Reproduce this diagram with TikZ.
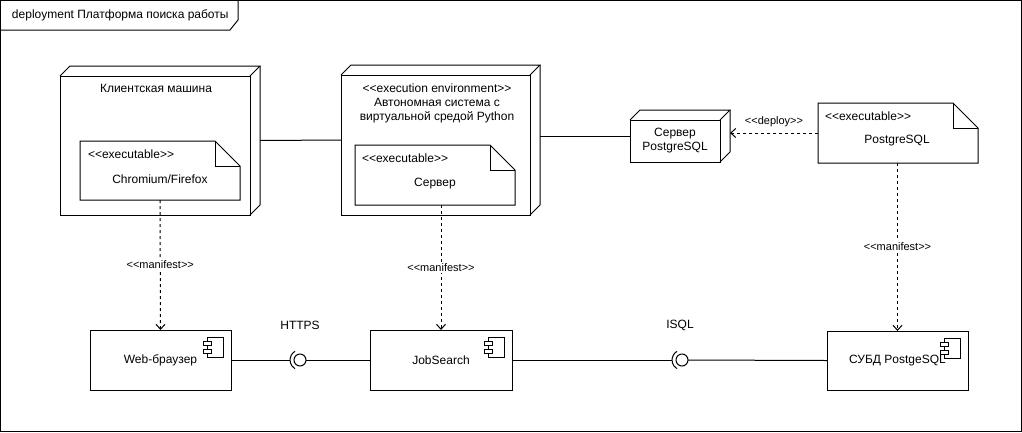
\documentclass[tikz,border=0pt]{standalone}
\usepackage{fontspec}
\setmainfont{Liberation Sans}
\usetikzlibrary{arrows.meta}
\newcommand\mylt{<\kern0pt<}
\newcommand\mygt{>\kern0pt>}
\begin{document}
\begin{tikzpicture}[x=1pt,y=-1pt,line width=1pt,
  every node/.style={font=\fontsize{12}{14}\selectfont, inner sep=0pt, outer sep=0pt},
  holder/.style={draw=none},
  comp/.style={draw, fill=white},
  edgelab/.style={font=\fontsize{11}{13}\selectfont, fill=white, inner sep=1.5pt},
  dep/.style={dash pattern=on 3pt off 3pt, -{Straight Barb[length=5pt,width=9pt]}},
  ifc/.style={draw, circle, minimum size=12pt}
]
\useasboundingbox (0,0) rectangle (1022,432);
% frame
\draw (0.5,0.5) rectangle (1021.5,431.5);
\draw (0.5,30) -- (230,30) -- (238,20) -- (238,0.5);
\node[anchor=west] (title) at (12,15) {deployment Платформа поиска работы};

% 3D nodes (bounding holders)
\node[holder, minimum width=200pt, minimum height=149pt] (cm) at (160,140.5) {};
\node[holder, minimum width=199pt, minimum height=150pt] (ee) at (440.5,140) {};
\node[holder, minimum width=100pt, minimum height=52pt] (srv) at (680,136) {};
\foreach \n in {cm,ee,srv}{
  \draw (\n.south west) rectangle ([shift={(-10,10)}]\n.north east);
  \draw ([shift={(0,10)}]\n.north west) -- ([shift={(10,0)}]\n.north west) -- (\n.north east) -- ([shift={(-10,10)}]\n.north east);
  \draw (\n.north east) -- ([shift={(0,-10)}]\n.south east) -- ([shift={(-10,0)}]\n.south east);
}
\node (cmt) at (156,88) {Клиентская машина};
\node[align=center] (eet) at (437,103) {\mylt execution environment\mygt\\Автономная система с\\виртуальной средой Python};
\node[align=center] (srvt) at (675,141) {Сервер\\PostgreSQL};

% notes
\node[holder, minimum width=160pt, minimum height=59pt] (n1) at (160,170.5) {};
\node[holder, minimum width=160pt, minimum height=60pt] (n2) at (435,175) {};
\node[holder, minimum width=160pt, minimum height=60pt] (n3) at (898,133) {};
\foreach \n in {n1,n2,n3}{
  \draw[fill=white] (\n.north west) -- ([shift={(-25,0)}]\n.north east) -- ([shift={(0,25)}]\n.north east) -- (\n.south east) -- (\n.south west) -- cycle;
  \draw ([shift={(-25,0)}]\n.north east) -- ([shift={(-25,25)}]\n.north east) -- ([shift={(0,25)}]\n.north east);
}
\node[anchor=west] (n1s) at (88,154) {\mylt executable\mygt};
\node (n1t) at (160,179) {Chromium/Firefox};
\node[anchor=west] (n2s) at (362,158) {\mylt executable\mygt};
\node (n2t) at (435,184) {Сервер};
\node[anchor=west] (n3s) at (825,116) {\mylt executable\mygt};
\node (n3t) at (897,141) {PostgreSQL};

% components
\node[comp, minimum width=141pt, minimum height=60pt] (web) at (160.5,360) {Web-браузер};
\node[comp, minimum width=142pt, minimum height=60pt] (job) at (441,360) {JobSearch};
\node[comp, minimum width=141pt, minimum height=59pt] (dbms) at (897.5,360.5) {СУБД PostgeSQL};
\foreach \n in {web,job,dbms}{
  \draw ([shift={(-24,7)}]\n.north east) rectangle ([shift={(-8,27)}]\n.north east);
  \draw[fill=white] ([shift={(-28,11)}]\n.north east) rectangle ([shift={(-20,15)}]\n.north east);
  \draw[fill=white] ([shift={(-28,19)}]\n.north east) rectangle ([shift={(-20,23)}]\n.north east);
}

% interfaces
\node[ifc] (i1) at (300,360) {};
\node[ifc] (i2) at (682,360) {};
\draw (i1.center) ++(120:10) arc[start angle=120, end angle=240, radius=10];
\draw (i2.center) ++(120:10) arc[start angle=120, end angle=240, radius=10];
\coordinate (i1s) at (290,360);
\coordinate (i2s) at (672,360);
\node (https) at (300,325) {HTTPS};
\node (isql) at (680,325) {ISQL};

% connectors
\draw (cm.east) -- (ee.west);
\draw (ee.east |- srv.west) -- (srv.west);
\draw (web.east) -- (i1s);
\draw (i1.east) -- (job.west);
\draw (job.east) -- (i2s);
\draw (i2.east) -- (dbms.west);
\draw[dep] (n3.west) -- (n3.west -| srv.east) node[midway, anchor=south, yshift=5pt, edgelab, fill=none] (deplab) {\mylt deploy\mygt};
\draw[dep] (n1.south) -- (web.north) node[midway, edgelab] (m1) {\mylt manifest\mygt};
\draw[dep] (job.north |- n2.south) -- (job.north) node[midway, edgelab] (m2) {\mylt manifest\mygt};
\draw[dep] (dbms.north |- n3.south) -- (dbms.north) node[midway, edgelab] (m3) {\mylt manifest\mygt};
\end{tikzpicture}
\end{document}
